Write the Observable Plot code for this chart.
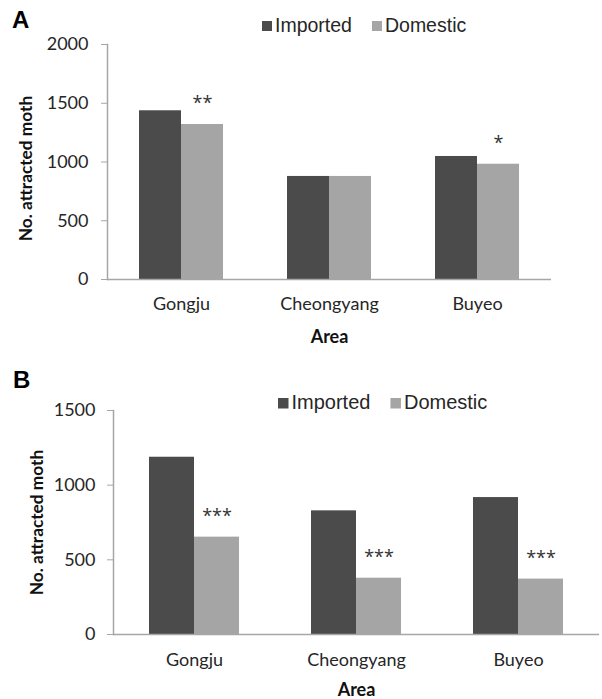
<!DOCTYPE html>
<html>
<head>
<meta charset="utf-8">
<script src="https://cdn.jsdelivr.net/npm/d3@7"></script>
<script src="https://cdn.jsdelivr.net/npm/@observablehq/plot@0.6"></script>
<style>
  html, body { margin: 0; padding: 0; background: #fff; }
  #wrap { position: relative; width: 602px; height: 699px; overflow: hidden; }
  .panel { position: absolute; left: 0; }
  .overlay { position: absolute; left: 0; top: 0; pointer-events: none; }
  g[aria-label="y-axis label"], g[aria-label="fx-axis label"] { font-weight: bold; fill: #111; }
  g[aria-label="y-axis label"] { font-size: 17.3px; }
</style>
</head>
<body>
<div id="wrap">
  <div class="panel" id="pA" style="top:0"></div>
  <div class="panel" id="pB" style="top:350px"></div>
  <svg class="overlay" id="ov" width="602" height="699"></svg>
</div>
<script>
// ---- data ----
const areas = ["Gongju", "Cheongyang", "Buyeo"];
const sources = ["Imported", "Domestic"];
const colors = ["#4b4b4b", "#a5a5a5"];

const importedA = [1436, 877, 1047];
const domesticA = [1319, 877, 981];
const signifA = ["**", "", "*"];
const ticksA = [0, 500, 1000, 1500, 2000];

const importedB = [1187, 828, 917];
const domesticB = [652, 377, 371];
const signifB = ["***", "***", "***"];
const ticksB = [0, 500, 1000, 1500];

const yLabel = "No. attracted moth";
const xLabel = "Area";

function rows(imp, dom, sig) {
  const out = [];
  areas.forEach((a, i) => {
    out.push({area: a, source: sources[0], value: imp[i], sig: ""});
    out.push({area: a, source: sources[1], value: dom[i], sig: sig[i]});
  });
  return out;
}

function panel(data, ticks, cfg) {
  return Plot.plot({
    width: 602,
    height: cfg.height,
    marginTop: cfg.mt, marginBottom: cfg.mb, marginLeft: cfg.ml, marginRight: cfg.mr,
    style: {fontFamily: "Lato, 'Open Sans', sans-serif", fontSize: "18px", color: "#262626", background: "white", overflow: "visible"},
    fx: {domain: areas, padding: 0},
    x: {domain: sources, paddingInner: 0, paddingOuter: cfg.po, axis: null},
    y: {domain: [0, ticks[ticks.length - 1]]},
    color: {domain: sources, range: colors},
    marks: [
      Plot.barY(data, {fx: "area", x: "source", y: "value", fill: "source"}),
      Plot.ruleY([0], {stroke: "#a6a6a6", strokeWidth: 1.5}),
      Plot.frame({anchor: "left", facetAnchor: "left", stroke: "#a6a6a6", strokeWidth: 1.5}),
      Plot.text(data.filter(d => d.sig), {fx: "area", x: "source", y: "value", text: "sig", dy: -21,
        fill: "#333333", fontSize: 18, fontFamily: "'Open Sans', sans-serif"}),
      Plot.axisY({ticks, tickSize: 6, tickPadding: cfg.tp, stroke: "#a6a6a6", fill: "#262626",
        label: yLabel, labelAnchor: "center", labelArrow: "none", labelOffset: cfg.ylo, tickFormat: d3.format("d")}),
      Plot.axisFx({anchor: "bottom", tickSize: 0, tickPadding: cfg.fxp, fill: "#262626",
        label: xLabel, labelAnchor: "center", labelArrow: "none", labelOffset: cfg.xlo})
    ]
  });
}

function shiftLabel(svg, dy) {
  const g = svg.querySelector('g[aria-label="y-axis label"]');
  if (g && dy) {
    const t = g.getAttribute("transform") || "";
    g.setAttribute("transform", (t + ` translate(0,${dy})`).trim());
  }
}

const svgA = panel(rows(importedA, domesticA, signifA), ticksA,
  {height: 350, mt: 44, mb: 71, ml: 106, mr: 51, po: 0.755, tp: 13, ylo: 88, fxp: 18, xlo: 63});
shiftLabel(svgA, 6.5);
document.getElementById("pA").append(svgA);
const svgB = panel(rows(importedB, domesticB, signifB), ticksB,
  {height: 349, mt: 60, mb: 65, ml: 112, mr: 2, po: 0.766, tp: 12, ylo: 83, fxp: 19, xlo: 61});
document.getElementById("pB").append(svgB);

// ---- panel letters and legends ----
const ov = d3.select("#ov");
const letters = [{t: "A", x: 12, y: 28}, {t: "B", x: 13, y: 388}];
ov.selectAll("text.letter").data(letters).join("text")
  .attr("class", "letter")
  .attr("x", d => d.x).attr("y", d => d.y)
  .attr("font-family", "'Liberation Sans', Arial, sans-serif")
  .attr("font-weight", "bold").attr("font-size", 24).attr("fill", "#000")
  .text(d => d.t);

const legends = [
  {x0: 262, base: 32, sq: 10, gap: 3, fs: 19.5, itemGap: 20},
  {x0: 278, base: 409, sq: 10.5, gap: 3, fs: 20, itemGap: 20}
];
legends.forEach(L => {
  let x = L.x0;
  sources.forEach((s, i) => {
    ov.append("rect").attr("x", x).attr("y", L.base - 11).attr("width", L.sq).attr("height", L.sq).attr("fill", colors[i]);
    x += L.sq + L.gap;
    const t = ov.append("text").attr("x", x).attr("y", L.base)
      .attr("font-family", "'Liberation Sans', Arial, sans-serif")
      .attr("font-size", L.fs).attr("fill", "#262626").text(s);
    x += t.node().getComputedTextLength() + L.itemGap;
  });
});
</script>
</body>
</html>
